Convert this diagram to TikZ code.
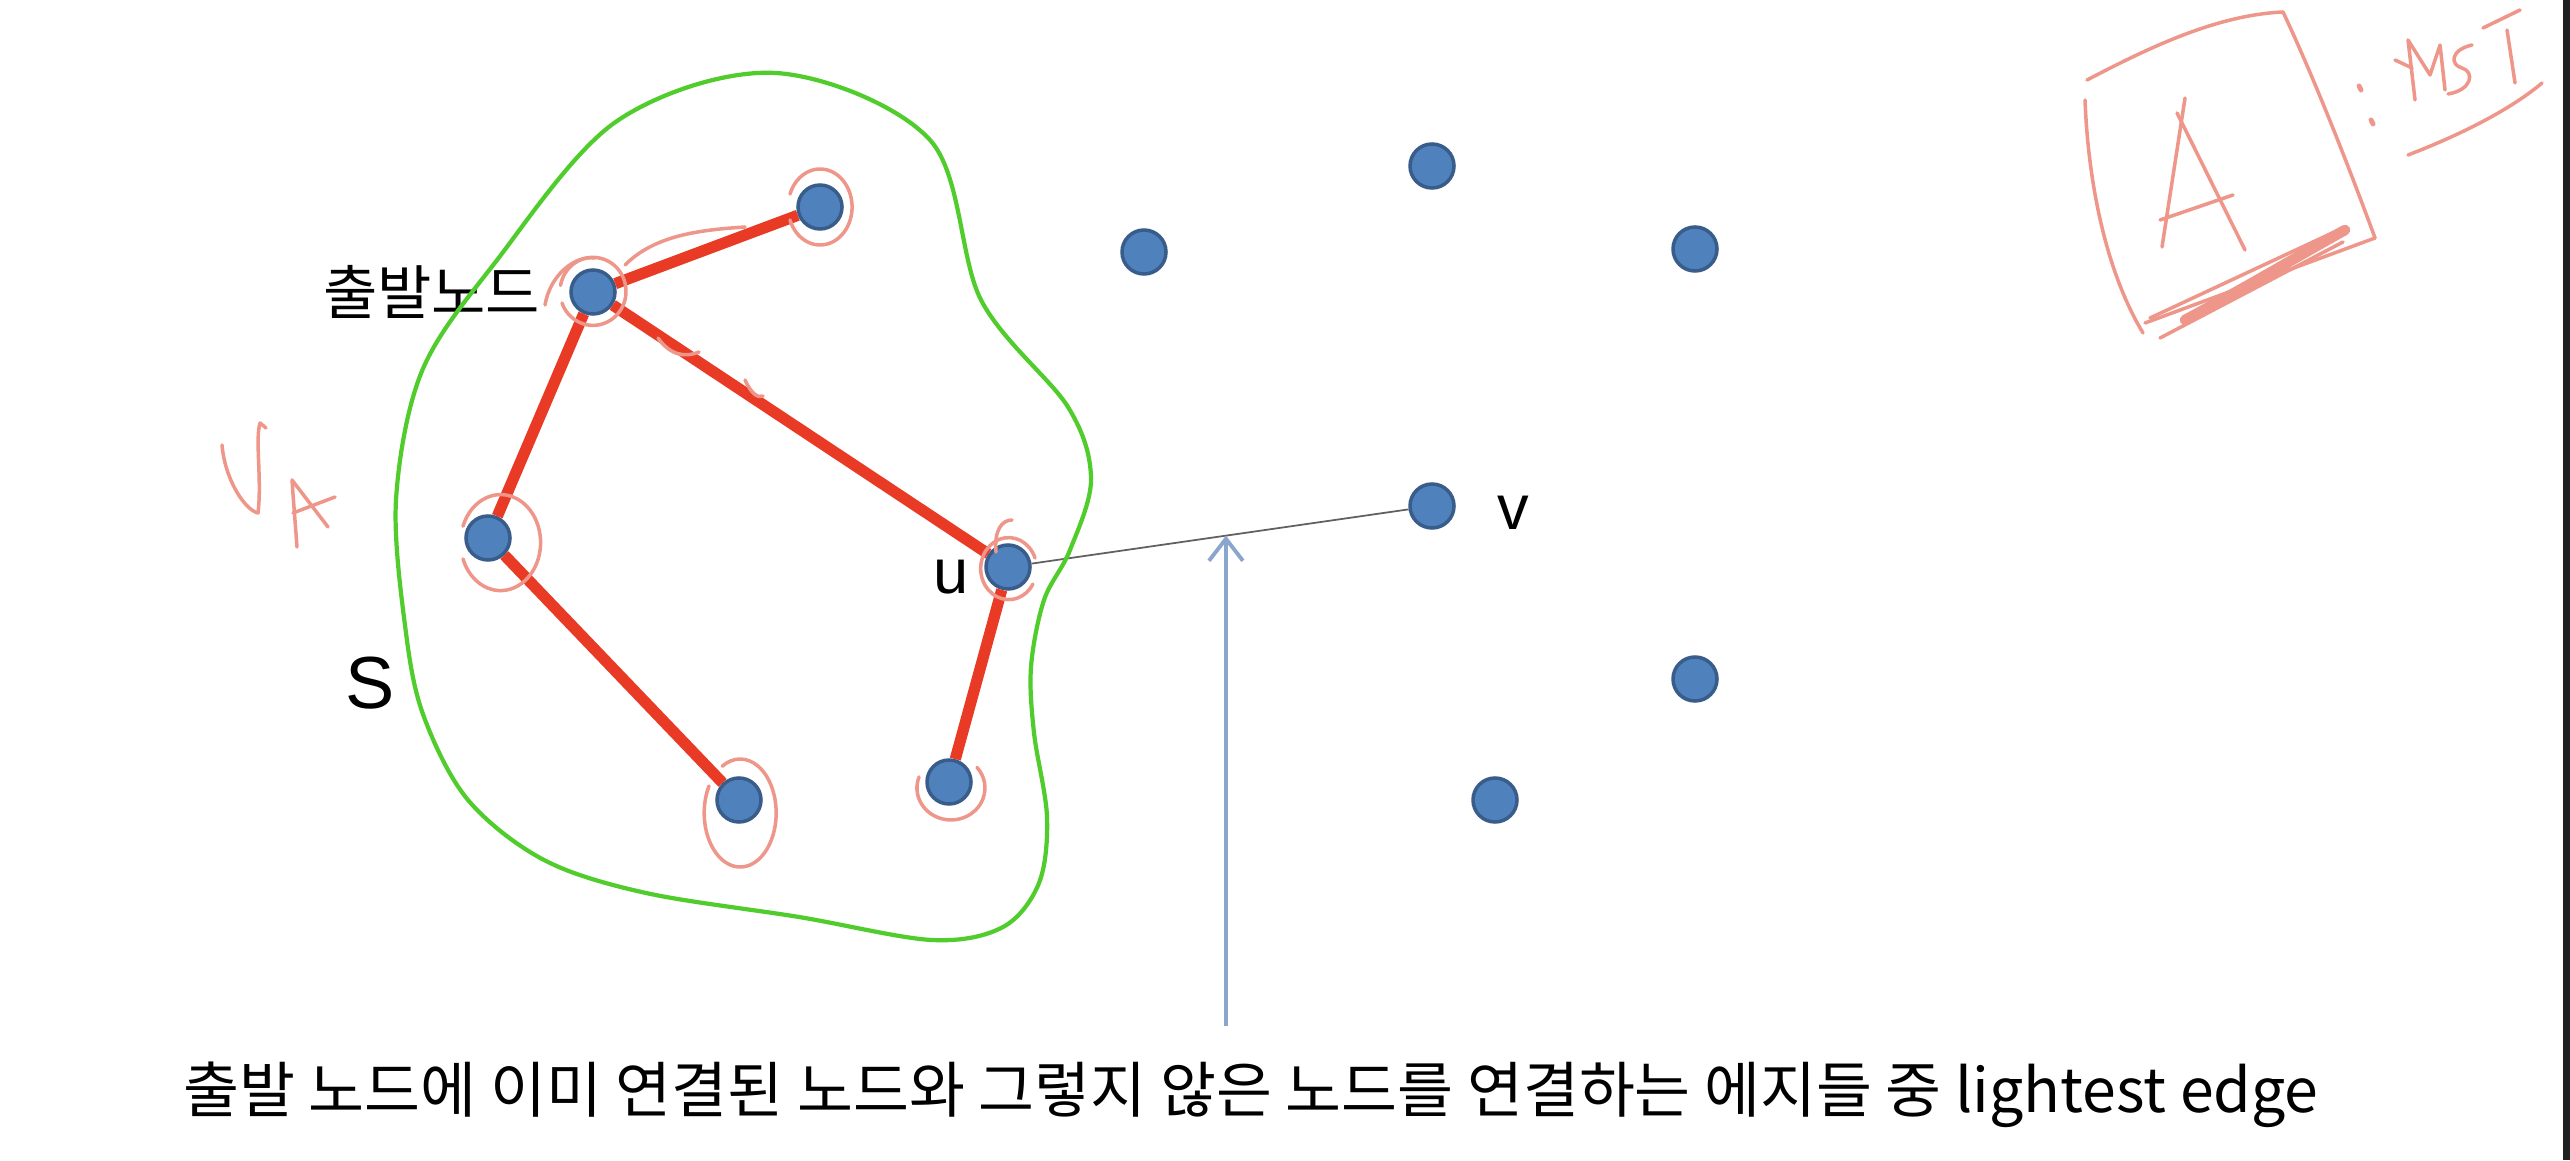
\documentclass[tikz,border=0pt]{standalone}
\usepackage{fontspec}
\setmainfont{Liberation Sans}
\newfontfamily\kr{Noto Sans CJK KR}
\usetikzlibrary{arrows.meta,calc}

\definecolor{nodeblue}{RGB}{79,129,189}
\definecolor{nodeedge}{RGB}{56,93,138}
\definecolor{treered}{RGB}{232,58,36}
\definecolor{setgreen}{RGB}{80,205,45}
\definecolor{inkpink}{RGB}{238,150,138}
\definecolor{pointblue}{RGB}{140,165,205}
\definecolor{stripgray}{RGB}{32,32,32}

\begin{document}
\begin{tikzpicture}[
   vert/.style={circle, draw=nodeedge, fill=nodeblue, line width=1pt, minimum size=0.44cm, inner sep=0pt},
   tree/.style={treered, line width=3.2pt},
   ink/.style={inkpink, line width=1pt, line cap=round, line join=round},
   pointer/.style={pointblue, line width=1.1pt, -{Straight Barb[length=2.2mm,width=3.4mm]}},
   lbl/.style={inner sep=0pt, font=\fontsize{18}{21}\selectfont}]

\useasboundingbox (0,0) rectangle (25.7,11.6);
\fill[stripgray] (25.63,0) rectangle (25.7,11.6);

                 \node [vert] at (5.93,8.68) (start) {};
              \node [vert] at (8.20,9.53) (top) {};
                   \node [vert] at (4.88,6.22) (left) {};
                       \node [vert] at (7.39,3.60) (botleft) {};
                        \node [vert] at (9.49,3.78) (bot) {};
                        \node [vert] at (10.08,5.93) (u) {};
                          \node [vert] at (11.44,9.08) (a) {};
                           \node [vert] at (14.32,9.94) (b) {};
                           \node [vert] at (16.95,9.11) (c) {};
                           \node [vert] at (14.32,6.54) (v) {};
                           \node [vert] at (16.95,4.81) (d) {};
                           \node [vert] at (14.95,3.60) (e) {};
%
\node[lbl, anchor=east, font=\kr\fontsize{16.8}{20}\selectfont] at (5.41,8.68) (startlbl) {출발노드};
\node[lbl] at (9.51,5.83) (ulbl) {u};
\node[lbl] at (15.13,6.47) (vlbl) {v};
\node[lbl, font=\fontsize{21}{24}\selectfont] at (3.70,4.77) (slbl) {S};
%
\draw[tree] (start)--(top);
\draw[tree] (start)--(left);
\draw[tree] (start)--(u);
\draw[tree] (left)--(botleft);
\draw[tree] (u)--(bot);
\draw[gray!75!black, line width=0.5pt] (u)--(v);
%
\draw[setgreen, line width=1.2pt] plot[smooth cycle, tension=0.55] coordinates {(7.76,10.87) (9.30,10.20) (9.81,8.60) (10.68,7.53) (10.91,6.81) (10.70,6.10) (10.44,5.60) (10.31,4.93) (10.34,4.27) (10.47,3.43) (10.39,2.77) (10.03,2.33) (9.32,2.20) (7.99,2.43) (6.46,2.67) (5.44,3.00) (4.68,3.60) (4.24,4.43) (4.06,5.27) (3.96,6.60) (4.22,7.89) (4.94,8.96) (6.17,10.39)};
%
\coordinate (hit) at ($(u)!0.514!(v)$);
\path (hit) ++(0,-4.9) coordinate (foot);
\draw[pointer] (foot)--(hit);
\node[lbl, font=\kr\fontsize{17.3}{20}\selectfont] at (12.51,0.65) (note) {출발 노드에 이미 연결된 노드와 그렇지 않은 노드를 연결하는 에지들 중 lightest edge};
%
% pen marks round the tree
\draw[ink] (top) ++(-0.30,-0.13) arc[start angle=200, end angle=520, x radius=0.32, y radius=0.38];
\draw[ink] (start) ++(-0.31,-0.11) arc[start angle=200, end angle=530, x radius=0.33, y radius=0.34];
\draw[ink] (5.45,8.55) .. controls (5.50,8.85) and (5.75,9.05) .. (5.95,9.02);
\draw[ink] (6.25,8.95) .. controls (6.55,9.25) and (7.00,9.30) .. (7.45,9.33);
\draw[ink] (6.58,8.22) .. controls (6.70,8.05) and (6.85,8.02) .. (6.99,8.08);
\draw[ink] (7.45,7.80) .. controls (7.52,7.65) and (7.58,7.62) .. (7.63,7.64);
\draw[ink] (left) ++(0.13,-0.06) ++(-0.38,-0.15) arc[start angle=200, end angle=520, x radius=0.40, y radius=0.48];
\draw[ink] (botleft) ++(0.04,-0.04) ++(-0.34,0.18) arc[start angle=150, end angle=480, x radius=0.36, y radius=0.54];
\draw[ink] (bot) ++(0.02,-0.06) ++(-0.32,0.11) arc[start angle=160, end angle=400, x radius=0.34, y radius=0.32];
\draw[ink] (u) ++(0.27,0.09) arc[start angle=20, end angle=330, x radius=0.28, y radius=0.31];
\draw[ink] (9.96,6.08) .. controls (9.94,6.30) and (10.02,6.40) .. (10.12,6.40);
%
% V_A
\draw[ink] (2.22,7.15) .. controls (2.25,6.80) and (2.45,6.50) .. (2.58,6.47) .. controls (2.62,6.80) and (2.55,7.20) .. (2.60,7.37) -- (2.66,7.32);
\draw[ink] (2.97,6.13) .. controls (2.95,6.40) and (2.93,6.65) .. (2.92,6.80) -- (3.28,6.33);
\draw[ink] (2.93,6.47) -- (3.35,6.63);
%
% A : MST
\draw[ink] (20.87,10.80) .. controls (21.50,11.13) and (22.17,11.45) .. (22.83,11.48);
\draw[ink] (22.83,11.48) .. controls (23.15,10.80) and (23.50,9.90) .. (23.75,9.22);
\draw[ink] (23.75,9.22) -- (21.45,8.37);
\draw[ink] (20.85,10.60) .. controls (20.88,9.80) and (21.05,8.90) .. (21.43,8.27);
\draw[ink] (21.62,9.13) -- (21.85,10.62);
\draw[ink] (21.77,10.47) -- (22.45,9.10);
\draw[ink] (21.60,9.40) -- (22.33,9.65);
\draw[ink, line width=3pt] (21.85,8.40) .. controls (22.50,8.75) and (23.00,9.05) .. (23.45,9.30);
\draw[ink] (21.50,8.42) -- (23.45,9.33);
\draw[ink] (21.60,8.22) -- (23.43,9.18);
\draw[ink, line width=1.4pt] (23.59,10.74) -- (23.61,10.70);
\draw[ink, line width=1.4pt] (23.71,10.40) -- (23.73,10.36);
\draw[ink] (24.15,10.60) -- (24.08,11.20) -- (24.30,10.85) -- (24.40,11.15) -- (24.45,10.70);
\draw[ink] (23.95,11.00) -- (24.12,10.92);
\draw[ink] (24.72,11.15) .. controls (24.50,11.10) and (24.50,10.95) .. (24.62,10.92) .. controls (24.75,10.88) and (24.72,10.70) .. (24.48,10.66);
\draw[ink] (24.83,11.32) -- (25.20,11.50);
\draw[ink] (25.07,11.30) -- (25.15,10.77);
\draw[ink] (24.08,10.05) .. controls (24.60,10.25) and (25.10,10.50) .. (25.42,10.77);

\end{tikzpicture}
\end{document}
